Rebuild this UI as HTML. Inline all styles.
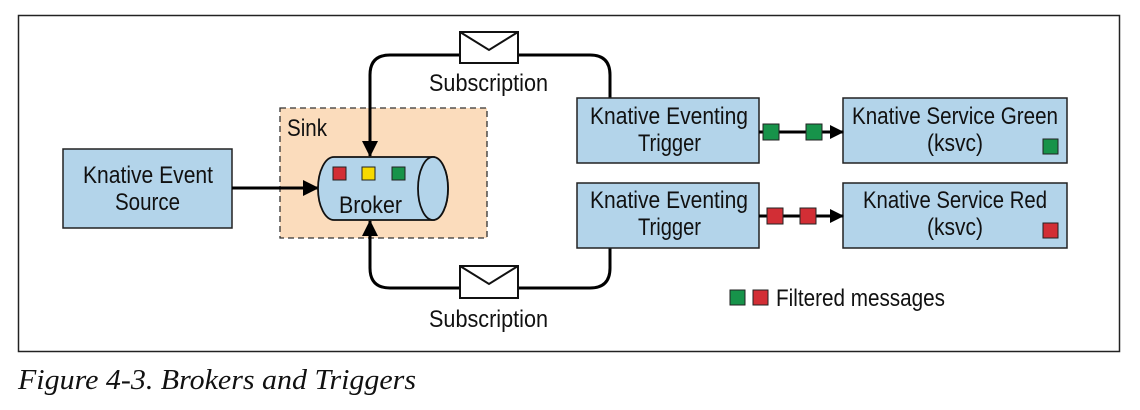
<!DOCTYPE html>
<html><head><meta charset="utf-8"><style>
html,body{margin:0;padding:0;background:#fff;width:1140px;height:410px;overflow:hidden}
text{font-family:"Liberation Sans",sans-serif;fill:#111}
</style></head><body>
<svg width="1140" height="410" viewBox="0 0 1140 410" xmlns="http://www.w3.org/2000/svg">
<defs><marker id="ah" markerWidth="14" markerHeight="14" refX="13" refY="7" orient="auto" markerUnits="userSpaceOnUse" viewBox="0 0 14 14"><path d="M0,0 L14,7 L0,14 z" fill="#000"/></marker>
<marker id="ah2" markerWidth="16" markerHeight="16" refX="15" refY="8" orient="auto" markerUnits="userSpaceOnUse" viewBox="0 0 16 16"><path d="M0,0 L16,8 L0,16 z" fill="#000"/></marker></defs>
<rect x="18.5" y="15.5" width="1101" height="336" fill="#fff" stroke="#222" stroke-width="1.5"/>
<rect x="280" y="108" width="207" height="130" fill="#fbdcbc" stroke="#333" stroke-width="1.3" stroke-dasharray="6,4"/>
<text x="287" y="136" font-size="24" textLength="40" lengthAdjust="spacingAndGlyphs">Sink</text>
<rect x="63" y="149" width="169" height="79" fill="#b3d4ea" stroke="#222" stroke-width="1.5"/>
<text x="83" y="183" font-size="24" textLength="130" lengthAdjust="spacingAndGlyphs">Knative Event</text>
<text x="115" y="210" font-size="24" textLength="65" lengthAdjust="spacingAndGlyphs">Source</text>
<line x1="232" y1="188" x2="318" y2="188" stroke="#000" stroke-width="3" marker-end="url(#ah2)"/>
<path d="M334,157 L433,157 A15,31.5 0 0 1 433,220 L334,220 A16,31.5 0 0 1 334,157 z" fill="#b3d4ea" stroke="#111" stroke-width="1.8"/>
<ellipse cx="433" cy="188.5" rx="15" ry="31.5" fill="#b3d4ea" stroke="#111" stroke-width="1.8"/>
<rect x="333" y="167" width="13" height="13" fill="#d22e35" stroke="#222"/>
<rect x="362" y="167" width="13" height="13" fill="#f7d900" stroke="#222"/>
<rect x="392" y="167" width="13" height="13" fill="#17934a" stroke="#222"/>
<text x="339" y="213" font-size="24" textLength="63" lengthAdjust="spacingAndGlyphs">Broker</text>
<path d="M610,98 L610,75 Q610,55 590,55 L390,55 Q370,55 370,75 L370,156" fill="none" stroke="#000" stroke-width="3" marker-end="url(#ah2)"/>
<path d="M610,248 L610,268 Q610,288 590,288 L390,288 Q370,288 370,268 L370,221" fill="none" stroke="#000" stroke-width="3" marker-end="url(#ah2)"/>
<g stroke="#111" stroke-width="2" fill="#fff">
<rect x="460" y="32" width="58" height="31"/><path d="M460,32 L489,50 L518,32" fill="none"/>
<rect x="460" y="266" width="58" height="32"/><path d="M460,266 L489,284 L518,266" fill="none"/>
</g>
<text x="429" y="91" font-size="24" textLength="119" lengthAdjust="spacingAndGlyphs">Subscription</text>
<text x="429" y="327" font-size="24" textLength="119" lengthAdjust="spacingAndGlyphs">Subscription</text>
<rect x="577" y="98" width="182" height="65" fill="#b3d4ea" stroke="#222" stroke-width="1.5"/>
<text x="590" y="124" font-size="24" textLength="158" lengthAdjust="spacingAndGlyphs">Knative Eventing</text>
<text x="638" y="151" font-size="24" textLength="63" lengthAdjust="spacingAndGlyphs">Trigger</text>
<rect x="577" y="183" width="182" height="65" fill="#b3d4ea" stroke="#222" stroke-width="1.5"/>
<text x="590" y="208" font-size="24" textLength="158" lengthAdjust="spacingAndGlyphs">Knative Eventing</text>
<text x="638" y="235" font-size="24" textLength="63" lengthAdjust="spacingAndGlyphs">Trigger</text>
<rect x="843" y="98" width="224" height="65" fill="#b3d4ea" stroke="#222" stroke-width="1.5"/>
<text x="852" y="124" font-size="24" textLength="206" lengthAdjust="spacingAndGlyphs">Knative Service Green</text>
<text x="927" y="151" font-size="24" textLength="56" lengthAdjust="spacingAndGlyphs">(ksvc)</text>
<rect x="1043" y="139" width="15" height="15" fill="#17934a" stroke="#222"/>
<rect x="843" y="183" width="224" height="65" fill="#b3d4ea" stroke="#222" stroke-width="1.5"/>
<text x="863" y="208" font-size="24" textLength="184" lengthAdjust="spacingAndGlyphs">Knative Service Red</text>
<text x="927" y="235" font-size="24" textLength="56" lengthAdjust="spacingAndGlyphs">(ksvc)</text>
<rect x="1043" y="223" width="15" height="15" fill="#d22e35" stroke="#222"/>
<line x1="759" y1="132" x2="843" y2="132" stroke="#000" stroke-width="3" marker-end="url(#ah)"/>
<rect x="763" y="124" width="16" height="16" fill="#17934a" stroke="#222"/>
<rect x="806" y="124" width="16" height="16" fill="#17934a" stroke="#222"/>
<line x1="759" y1="216" x2="843" y2="216" stroke="#000" stroke-width="3" marker-end="url(#ah)"/>
<rect x="767" y="208" width="16" height="16" fill="#d22e35" stroke="#222"/>
<rect x="800" y="208" width="16" height="16" fill="#d22e35" stroke="#222"/>
<rect x="730" y="290" width="15" height="15" fill="#17934a" stroke="#222"/>
<rect x="753" y="290" width="15" height="15" fill="#d22e35" stroke="#222"/>
<text x="776" y="306" font-size="24" textLength="169" lengthAdjust="spacingAndGlyphs">Filtered messages</text>
<text x="18" y="389" font-size="28" font-style="italic" textLength="398" lengthAdjust="spacingAndGlyphs" style="font-family:'Liberation Serif',serif">Figure 4-3. Brokers and Triggers</text>
</svg>
</body></html>
